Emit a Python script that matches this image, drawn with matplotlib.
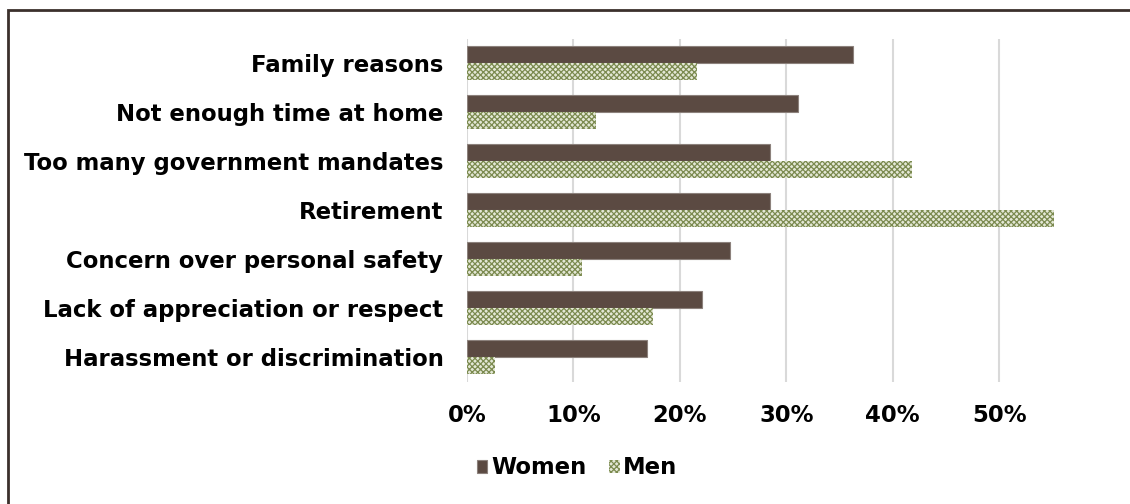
import os
import matplotlib
matplotlib.use("Agg")
import matplotlib.pyplot as plt
import numpy as np
from matplotlib.patches import Rectangle
from matplotlib.font_manager import FontProperties

categories = ["Family reasons", "Not enough time at home", "Too many government mandates",
              "Retirement", "Concern over personal safety", "Lack of appreciation or respect",
              "Harassment or discrimination"]
women = [36.3, 31.1, 28.5, 28.5, 24.7, 22.1, 16.9]
men = [21.6, 12.1, 41.8, 55.2, 10.8, 17.5, 2.6]
xticks = [0, 10, 20, 30, 40, 50]
xticklabels = ["0%", "10%", "20%", "30%", "40%", "50%"]

FS = 16.4
bold_path = os.path.join(matplotlib.get_data_path(), 'fonts', 'ttf', 'DejaVuSans-Bold.ttf')
if os.path.exists(bold_path):
    fp = FontProperties(fname=bold_path, size=FS)
else:
    fp = FontProperties(family='DejaVu Sans', weight='bold', stretch='normal', size=FS)

plt.rcParams['hatch.linewidth'] = 0.9
plt.rcParams['hatch.color'] = '#7b8a4f'

fig = plt.figure(figsize=(11.3, 5.04), dpi=100)
ax = fig.add_axes([467/1130, 1-381.5/504, (1063-467)/1130, (381.5-38.5)/504])

n = len(categories)
y = np.arange(n)
h = 0.357
ax.barh(y - h/2, women, height=h, color='#5b4a42', edgecolor='#8c817c', linewidth=0.8,
        label='Women', zorder=3)
ax.barh(y + h/2, men, height=h, color='#e4e8d6', edgecolor='#7b8a4f', linewidth=0,
        hatch='xxxxxx', label='Men', zorder=3)

ax.set_ylim(n - 0.5, -0.5)
ax.set_xlim(0, 56)
ax.set_yticks(y)
ax.set_yticklabels(categories, fontproperties=fp)
ax.set_xticks(xticks)
ax.set_xticklabels(xticklabels, fontproperties=fp)
ax.tick_params(axis='y', length=0, pad=17)
ax.tick_params(axis='x', length=0, pad=16)
for s in ax.spines.values():
    s.set_visible(False)
ax.grid(axis='x', color='#d9d9d9', linewidth=1.5, zorder=0)
ax.set_axisbelow(True)

leg = fig.legend(loc='center', bbox_to_anchor=(577/1130, 1-468/504), ncol=2, frameon=False,
                 prop=fp, handlelength=0.48, handleheight=0.48,
                 handletextpad=0.15, columnspacing=1.0)

# outer border
fig.add_artist(Rectangle((7.5/1130, -0.1), 1.2, (504-9.5)/504 + 0.1, transform=fig.transFigure,
                         fill=False, edgecolor='#3b302c', linewidth=2))

fig.savefig('out.png', dpi=100)
